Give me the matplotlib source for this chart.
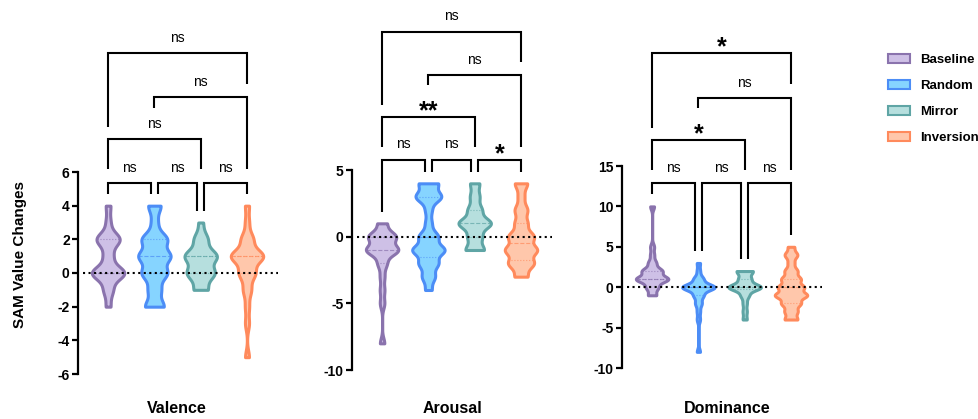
import numpy as np
import matplotlib
matplotlib.use("Agg")
import matplotlib.pyplot as plt
from matplotlib import cbook, mlab
from matplotlib.patches import Patch

plt.rcParams['font.family'] = ['Liberation Sans', 'DejaVu Sans']
plt.rcParams['axes.unicode_minus'] = False

groups = ['Baseline', 'Random', 'Mirror', 'Inversion']
edge_colors = ['#8A73AD', '#4C8DF6', '#5FA5A5', '#FF8A5C']
fill_colors = ['#CEC0E6', '#86D4FF', '#B6DFDE', '#FFC7AB']

# SAM value changes per participant
valence_baseline = [-2, -1, -1, 0, 0, 0, 0, 0, 0, 0, 1, 1, 2, 2, 2, 2, 2, 3, 4]
valence_random = [-2, -2, -2, -1, -1, 0, 0, 0, 0, 1, 1, 1, 1, 1, 2, 2, 2, 2, 3, 4, 4]
valence_mirror = [-1, -1, -1, 0, 0, 0, 0, 0, 0, 1, 1, 1, 1, 1, 1, 1, 2, 2, 2, 3]
valence_inversion = [-5, -3, -2, -1, -1, 0, 0, 0, 0, 1, 1, 1, 1, 1, 1, 1, 1, 2, 2, 2, 3, 4]

arousal_baseline = [-8, -5, -4, -3, -2, -2, -1, -1, -1, -1, -1, -1, -1, 0, 0, 0, 0, 0, 0, 1, 1]
arousal_random = [-4, -3, -3, -2, -2, -2, -1, -1, -1, -1, -1, 0, 0, 0, 1, 2, 3, 3, 3, 3, 4, 4, 4]
arousal_mirror = [-1, -1, -1, -1, 0, 0, 0, 1, 1, 1, 1, 1, 1, 1, 2, 2, 2, 3, 3, 4, 4]
arousal_inversion = [-3, -3, -2, -2, -2, -2, -1, -1, -1, -1, -1, 0, 0, 0, 0, 1, 1, 2, 2, 3, 4, 4]

dominance_baseline = [-1, -1, 0, 0, 0, 1, 1, 1, 1, 1, 1, 1, 1, 2, 2, 2, 2, 2, 3, 3, 4, 5, 10]
dominance_random = [-8, -4, -3, -2, -2, -1, -1, -1, 0, 0, 0, 0, 0, 0, 0, 0, 0, 0, 1, 1, 1, 2, 3]
dominance_mirror = [-4, -3, -2, -1, -1, 0, 0, 0, 0, 0, 0, 0, 0, 1, 1, 1, 2, 2, 2, 2]
dominance_inversion = [-4, -4, -3, -3, -2, -2, -2, -1, -1, -1, -1, -1, 0, 0, 0, 0,
                       1, 1, 1, 2, 2, 3, 4, 4, 5]

panel_names = ['Valence', 'Arousal', 'Dominance']
panel_data = [
    [valence_baseline, valence_random, valence_mirror, valence_inversion],
    [arousal_baseline, arousal_random, arousal_mirror, arousal_inversion],
    [dominance_baseline, dominance_random, dominance_mirror, dominance_inversion],
]
panel_ylim = [(-6, 6), (-10, 5), (-10, 15)]
panel_yticks = [[-6, -4, -2, 0, 2, 4, 6], [-10, -5, 0, 5], [-10, -5, 0, 5, 10, 15]]

# comparisons: (x0, x1, bracket y, left leg end, right leg end, label)
valence_comp = [
    (0, 0.92, 5.35, 4.69, 4.69, 'ns'),
    (1.08, 1.92, 5.35, 4.69, 3.68, 'ns'),
    (2.08, 3.0, 5.35, 3.68, 4.69, 'ns'),
    (0, 2, 7.96, 6.18, 6.18, 'ns'),
    (1, 3, 10.46, 9.80, 6.18, 'ns'),
    (0, 3, 13.07, 8.68, 11.23, 'ns'),
]
arousal_comp = [
    (0, 0.92, 5.78, 1.88, 4.88, 'ns'),
    (1.08, 1.92, 5.78, 4.88, 4.88, 'ns'),
    (2.08, 3.0, 5.78, 4.88, 4.88, '*'),
    (0, 2, 9.0, 6.75, 6.75, '**'),
    (1, 3, 12.15, 11.4, 6.75, 'ns'),
    (0, 3, 15.38, 9.9, 13.13, 'ns'),
]
dominance_comp = [
    (0, 0.92, 12.87, 11.5, 4.46, 'ns'),
    (1.08, 1.92, 12.87, 4.46, 3.47, 'ns'),
    (2.08, 3.0, 12.87, 3.47, 6.44, 'ns'),
    (0, 2, 18.19, 14.48, 14.48, '*'),
    (1, 3, 23.4, 22.15, 14.48, 'ns'),
    (0, 3, 28.96, 19.68, 25.12, '*'),
]
panel_comp = [valence_comp, arousal_comp, dominance_comp]

W, H = 979, 419
# pixel geometry of each panel: spine x, bottom y, top y
panel_px = [(78, 374, 172), (352, 370, 170), (622, 368, 166)]
unit_px = 46.3
xlim = (-0.65, 3.7)
label_x = [177, 452, 727]

fig = plt.figure(figsize=(W / 100, H / 100), dpi=100)

positions = [0, 1, 2, 3]
vwidth = 0.7


def kde(X, coords):
    X = np.asarray(X, float)
    k = mlab.GaussianKDE(X, 0.4 / np.std(X, ddof=1))
    return k.evaluate(coords)


for p in range(3):
    sx, by, ty = panel_px[p]
    ax = fig.add_axes([sx / W, (H - by) / H, (xlim[1] - xlim[0]) * unit_px / W, (by - ty) / H])
    ax.set_xlim(*xlim)
    ax.set_ylim(*panel_ylim[p])

    stats = cbook.violin_stats(panel_data[p], kde, points=300)
    parts = ax.violin(stats, positions=positions, widths=vwidth,
                      showmeans=False, showextrema=False, showmedians=False)
    for i, body in enumerate(parts['bodies']):
        body.set_facecolor(fill_colors[i])
        body.set_edgecolor(edge_colors[i])
        body.set_linewidth(2.2)
        body.set_alpha(1)
        body.set_zorder(2)
        st = stats[i]
        half = st['vals'] / st['vals'].max() * vwidth / 2
        q1, med, q3 = np.percentile(panel_data[p][i], [25, 50, 75])
        for q, ls in [(q1, ':'), (med, '--'), (q3, ':')]:
            w = np.interp(q, st['coords'], half)
            ax.plot([i - w, i + w], [q, q], color=edge_colors[i], lw=0.8,
                    ls=ls, alpha=0.7, zorder=3)

    ax.plot([-0.55, 3.68], [0, 0], color='black', lw=1.5, ls=':', zorder=4)

    for x0, x1, y, yl, yr, lab in panel_comp[p]:
        ax.plot([x0, x0, x1, x1], [yl, y, y, yr], color='black', lw=1.5,
                clip_on=False, solid_joinstyle='miter', solid_capstyle='butt')
        if lab == 'ns':
            ax.annotate(lab, xy=((x0 + x1) / 2, y), xytext=(0, 8), textcoords='offset points',
                        ha='center', va='baseline', fontsize=10, annotation_clip=False)
        else:
            ax.annotate(lab, xy=((x0 + x1) / 2, y), xytext=(0, -1), textcoords='offset points',
                        ha='center', va='baseline', fontsize=18, fontweight='bold',
                        annotation_clip=False)

    for s in ['top', 'right', 'bottom']:
        ax.spines[s].set_visible(False)
    ax.spines['left'].set_linewidth(1.6)
    ax.set_xticks([])
    ax.set_yticks(panel_yticks[p])
    ax.tick_params(axis='y', width=1.6, length=4, labelsize=10, pad=2)
    for t in ax.get_yticklabels():
        t.set_fontweight('bold')
    ax.patch.set_visible(False)

    fig.text(label_x[p] / W, 1 - 408 / H, panel_names[p], ha='center', va='center',
             fontsize=11.5, fontweight='bold')

fig.text(20 / W, 1 - 255 / H, 'SAM Value Changes', rotation=90, ha='center', va='center',
         fontsize=11, fontweight='bold')

handles = [Patch(facecolor=fill_colors[i], edgecolor=edge_colors[i], linewidth=1.5)
           for i in range(4)]
fig.legend(handles, groups, loc='upper left', bbox_to_anchor=(881 / W, 1 - 47 / H),
           frameon=False, borderpad=0, labelspacing=1.05, handlelength=1.68,
           handleheight=0.7, handletextpad=0.8, prop={'size': 9.5, 'weight': 'bold'})

fig.savefig('out.png', dpi=100)
